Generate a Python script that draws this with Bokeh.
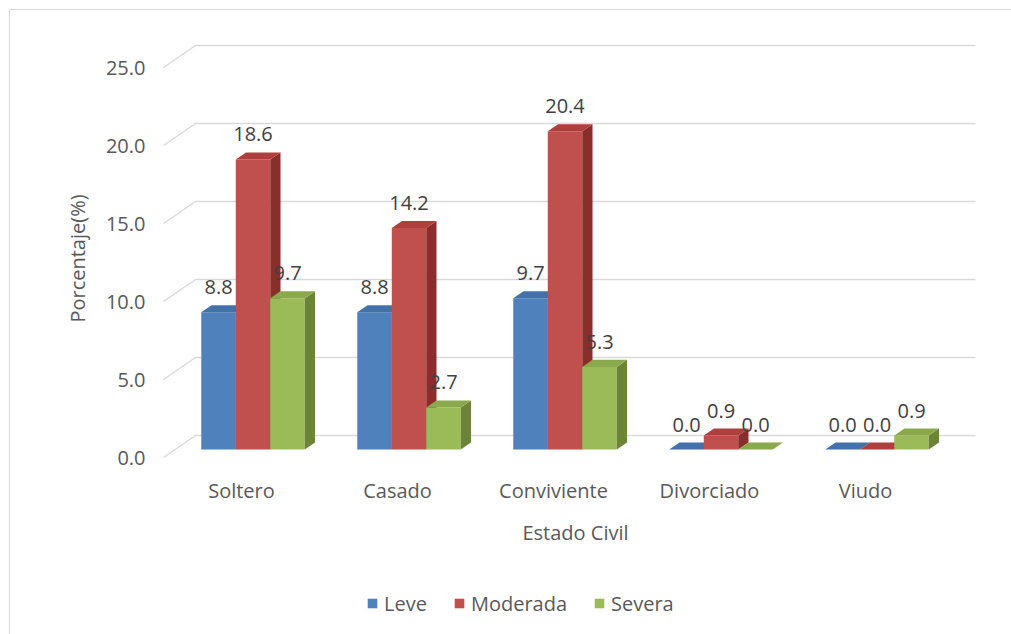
from bokeh.plotting import figure
from bokeh.layouts import column
from bokeh.models import Range1d, FixedTicker, PrintfTickFormatter, Legend, LegendItem
from bokeh.core.properties import value
from bokeh.embed import file_html
from bokeh.resources import INLINE

# ---------------- data ----------------
categories = ["Soltero", "Casado", "Conviviente", "Divorciado", "Viudo"]
series_names = ["Leve", "Moderada", "Severa"]
leve = [8.8, 8.8, 9.7, 0.0, 0.0]
moderada = [18.6, 14.2, 20.4, 0.9, 0.0]
severa = [9.7, 2.7, 5.3, 0.0, 0.9]
y_ticks = [0, 5, 10, 15, 20, 25]

series_values = [leve, moderada, severa]
front_colors = ["#4F81BD", "#C0504D", "#9BBB59"]
side_colors = ["#30527D", "#8A2E2B", "#6B8437"]
top_colors = ["#4372AB", "#AE3F3C", "#8AA94C"]

# ---------------- layout constants (page pixels) ----------------
W, H = 1011, 634
H_CHART = 570             # height of the chart figure, legend figure below
FRAME_L, FRAME_R, FRAME_T, FRAME_B = 160, 990, 40, 476
FRONT_X0 = 241            # front-floor centre of first category
CAT_PX = 156              # px per category
ZERO_Y = 457              # y=0 on the front plane
UNIT_PX = 15.6            # px per percent
DEPTH_PX = (32, 22)       # floor depth (dx, dy) in px
BAR_PX = 34.5             # bar front width
F0, F1 = 0.36, 0.68       # bar front/back depth fractions

DX = DEPTH_PX[0] / CAT_PX
DY = DEPTH_PX[1] / UNIT_PX
BW = BAR_PX / CAT_PX

FONT = "Open Sans"

p = figure(width=W, height=H_CHART, output_backend="svg", toolbar_location=None,
           x_range=Range1d((FRAME_L - FRONT_X0) / CAT_PX, (FRAME_R - FRONT_X0) / CAT_PX),
           y_range=Range1d((ZERO_Y - FRAME_B) / UNIT_PX, (ZERO_Y - FRAME_T) / UNIT_PX),
           min_border_left=FRAME_L, min_border_right=W - FRAME_R,
           min_border_top=FRAME_T, min_border_bottom=H_CHART - FRAME_B,
           background_fill_alpha=0, border_fill_alpha=0)
p.outline_line_color = None
p.xgrid.visible = False
p.ygrid.visible = False

# ---------------- walls / gridlines ----------------
n = len(categories)
x_left, x_right = -0.5, n - 0.5
gx, gy = [], []
for v in y_ticks:
    gx.append([x_left, x_left + DX, x_right + DX])
    gy.append([v, v + DY, v + DY])
p.multi_line(gx, gy, line_color="#d9d9d9", line_width=1.5)

# ---------------- 3D bars ----------------
ddx, ddy = (F1 - F0) * DX, (F1 - F0) * DY
labels = []
for s, vals in enumerate(series_values):
    lefts, rights, bottoms, tops = [], [], [], []
    side_x, side_y, top_x, top_y = [], [], [], []
    lab_x, lab_y, lab_t = [], [], []
    for i, v in enumerate(vals):
        xl = i - 1.5 * BW + s * BW + F0 * DX
        xr = xl + BW
        b = F0 * DY
        t = v + F0 * DY
        lefts.append(xl); rights.append(xr); bottoms.append(b); tops.append(t)
        side_x.append([xr, xr + ddx, xr + ddx, xr])
        side_y.append([b, b + ddy, t + ddy, t])
        top_x.append([xl, xr, xr + ddx, xl + ddx])
        top_y.append([t, t, t + ddy, t + ddy])
        lab_x.append((xl + xr) / 2)
        lab_y.append(t + 25 / UNIT_PX)
        lab_t.append(f"{v:.1f}")
    p.quad(left=lefts, right=rights, bottom=bottoms, top=tops,
           fill_color=front_colors[s], line_color=None)
    p.patches(side_x, side_y, fill_color=side_colors[s], line_color=None)
    p.patches(top_x, top_y, fill_color=top_colors[s], line_color=None)
    labels.append((lab_x, lab_y, lab_t))

for lab_x, lab_y, lab_t in labels:
    p.text(lab_x, lab_y, text=lab_t, text_align="center", text_baseline="middle",
           text_font=value(FONT), text_font_size="20px", text_color="#404040")

# ---------------- axes ----------------
p.yaxis.ticker = FixedTicker(ticks=y_ticks)
p.yaxis.formatter = PrintfTickFormatter(format="%.1f")
p.yaxis.axis_line_color = None
p.yaxis.major_tick_line_color = None
p.yaxis.minor_tick_line_color = None
p.yaxis.major_tick_out = 0
p.yaxis.major_tick_in = 0
p.yaxis.major_label_standoff = 15
p.yaxis.major_label_text_font = FONT
p.yaxis.major_label_text_font_size = "20px"
p.yaxis.major_label_text_color = "#595959"
p.yaxis.axis_label = "Porcentaje(%)"
p.yaxis.axis_label_text_font = FONT
p.yaxis.axis_label_text_font_size = "20px"
p.yaxis.axis_label_text_font_style = "normal"
p.yaxis.axis_label_text_color = "#595959"
p.yaxis.axis_label_standoff = 12

p.xaxis.ticker = FixedTicker(ticks=list(range(n)))
p.xaxis.major_label_overrides = {i: c for i, c in enumerate(categories)}
p.xaxis.axis_line_color = None
p.xaxis.major_tick_line_color = None
p.xaxis.minor_tick_line_color = None
p.xaxis.major_tick_out = 0
p.xaxis.major_tick_in = 0
p.xaxis.major_label_standoff = 0
p.xaxis.major_label_text_font = FONT
p.xaxis.major_label_text_font_size = "20px"
p.xaxis.major_label_text_color = "#595959"
p.xaxis.axis_label = "Estado Civil"
p.xaxis.axis_label_text_font = FONT
p.xaxis.axis_label_text_font_size = "20px"
p.xaxis.axis_label_text_font_style = "normal"
p.xaxis.axis_label_text_color = "#595959"
p.xaxis.axis_label_standoff = 12

# ---------------- legend (separate strip below the chart) ----------------
H_LEG = H - H_CHART
pl = figure(width=W, height=H_LEG, output_backend="svg", toolbar_location=None,
            x_range=Range1d(0, 1), y_range=Range1d(0, 1),
            x_axis_location=None, y_axis_location=None,
            min_border=0, background_fill_alpha=0, border_fill_alpha=0)
pl.outline_line_color = None
pl.xgrid.visible = False
pl.ygrid.visible = False
items = []
for s, name in enumerate(series_names):
    # swatch renderer kept outside the visible range; only its legend glyph shows
    r = pl.quad(left=[5], right=[6], bottom=[5], top=[6],
                fill_color=front_colors[s], line_color=None)
    items.append(LegendItem(label=name, renderers=[r]))

LEG_LEFT, LEG_CY, LEG_H = 366, 603, 27
# the column aligns this strip's frame with the chart frame (left edge FRAME_L)
legend = Legend(items=items, orientation="horizontal",
                location=(LEG_LEFT - FRAME_L, H - LEG_CY - LEG_H / 2),
                label_text_font=FONT, label_text_font_size="20px",
                label_text_color="#595959", glyph_width=12, glyph_height=12,
                label_standoff=6, spacing=26, border_line_color=None,
                background_fill_alpha=0, padding=0, margin=0)
pl.add_layout(legend)

layout = column(p, pl, spacing=0)
layout.styles = {
    "background": "linear-gradient(#d9d9d9,#d9d9d9) 9px 9px / 1px 100% no-repeat, "
                  "linear-gradient(#d9d9d9,#d9d9d9) 9px 9px / 100% 1px no-repeat, white"
}
open("out.html", "w").write(file_html(layout, INLINE))
